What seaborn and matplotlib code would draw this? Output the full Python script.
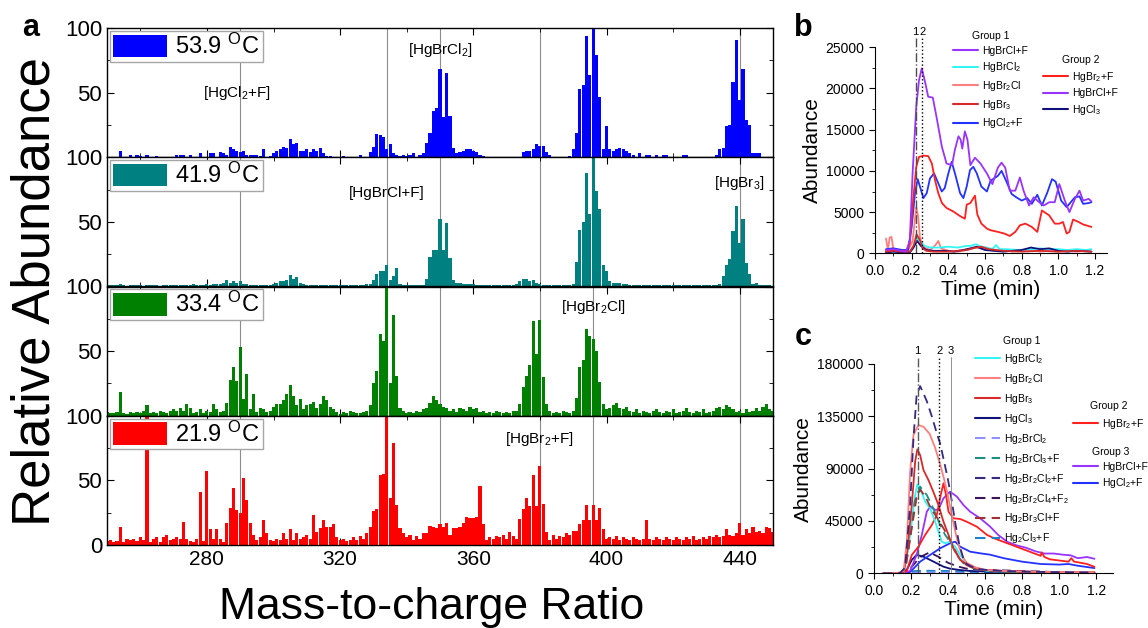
"""
Hg halide cluster spectra (a) and time profiles (b, c)
"""
import numpy as np
import matplotlib
matplotlib.use("Agg")
import matplotlib.pyplot as plt
from matplotlib.patches import Patch
from matplotlib.lines import Line2D
import seaborn as sns

sns.set_style("ticks")
plt.rcParams["font.family"] = ["Liberation Sans", "DejaVu Sans"]
plt.rcParams["mathtext.default"] = "regular"
for k in ["text.color", "axes.labelcolor", "xtick.color", "ytick.color", "axes.edgecolor"]:
    plt.rcParams[k] = "black"

# ---------------- panel a: spectra at four temperatures ----------------
MZ = list(range(250, 451))
TEMPS = ["53.9", "41.9", "33.4", "21.9"]
COLORS_A = ["#0000FF", "#008080", "#008000", "#FF0000"]

ABUND_539 = [
    0, 0, 0, 0, 5, 0, 0, 2, 0, 2,
    1, 0, 2, 0, 0, 1, 0, 0, 0, 0,
    0, 2, 2, 2, 0, 2, 0, 0, 3, 0,
    0, 3, 3, 0, 4, 3, 2, 8, 6, 5,
    4, 5, 2, 2, 2, 2, 1, 6, 0, 1,
    3, 5, 6, 8, 7, 14, 10, 11, 5, 5,
    6, 4, 6, 5, 7, 3, 1, 1, 0, 0,
    0, 1, 0, 0, 0, 0, 2, 0, 0, 4,
    8, 18, 17, 16, 6, 10, 3, 2, 1, 2,
    1, 2, 3, 0, 2, 3, 11, 19, 36, 38,
    68, 31, 65, 32, 7, 3, 4, 5, 6, 6,
    5, 4, 2, 1, 0, 0, 0, 0, 0, 0,
    0, 0, 0, 0, 0, 4, 5, 5, 6, 10,
    9, 9, 4, 2, 0, 0, 0, 0, 0, 1,
    6, 19, 53, 56, 94, 64, 100, 79, 47, 6,
    24, 6, 5, 6, 7, 6, 5, 3, 2, 0,
    3, 0, 2, 2, 0, 2, 0, 2, 2, 0,
    0, 0, 0, 2, 2, 0, 0, 0, 0, 0,
    0, 0, 0, 2, 6, 7, 24, 25, 58, 91,
    44, 68, 29, 25, 3, 3, 3, 0, 0, 0,
    0,
]
ABUND_419 = [
    1, 1, 1, 1, 2, 1, 0, 1, 1, 1,
    1, 0, 1, 1, 1, 1, 0, 1, 1, 1,
    1, 1, 1, 1, 1, 1, 2, 1, 1, 1,
    2, 1, 2, 2, 2, 3, 5, 3, 4, 3,
    4, 2, 2, 1, 1, 1, 1, 1, 1, 1,
    2, 3, 4, 4, 5, 9, 6, 7, 3, 2,
    1, 1, 1, 1, 1, 1, 1, 1, 1, 1,
    1, 1, 1, 1, 1, 1, 1, 1, 2, 2,
    5, 10, 12, 12, 17, 5, 8, 14, 2, 1,
    1, 1, 1, 1, 1, 1, 6, 23, 28, 28,
    52, 28, 49, 22, 5, 3, 3, 2, 2, 2,
    2, 1, 1, 1, 1, 1, 1, 1, 1, 1,
    1, 1, 1, 2, 4, 6, 6, 4, 5, 3,
    2, 1, 1, 1, 1, 1, 1, 1, 1, 1,
    2, 19, 44, 50, 88, 56, 100, 74, 60, 17,
    12, 4, 3, 3, 3, 2, 2, 1, 1, 1,
    1, 1, 1, 1, 1, 1, 1, 1, 1, 1,
    1, 1, 1, 1, 1, 1, 1, 1, 1, 1,
    1, 1, 1, 1, 2, 8, 17, 21, 43, 62,
    34, 52, 18, 10, 2, 3, 1, 1, 1, 1,
    0,
]
ABUND_334 = [
    3, 2, 2, 3, 18, 2, 1, 3, 2, 3,
    2, 4, 8, 2, 3, 2, 4, 3, 2, 4,
    5, 4, 6, 4, 9, 6, 2, 3, 5, 2,
    4, 3, 9, 5, 3, 4, 10, 28, 38, 27,
    53, 13, 32, 5, 17, 3, 6, 5, 3, 4,
    7, 9, 9, 12, 17, 24, 15, 8, 13, 5,
    8, 9, 11, 6, 9, 15, 12, 7, 5, 3,
    1, 3, 2, 4, 3, 2, 2, 3, 4, 8,
    25, 35, 63, 58, 100, 25, 78, 31, 6, 4,
    2, 3, 2, 4, 3, 5, 6, 10, 15, 12,
    9, 7, 6, 4, 5, 3, 6, 5, 4, 7,
    5, 6, 3, 4, 2, 3, 2, 4, 3, 2,
    3, 2, 4, 4, 9, 22, 31, 39, 73, 48,
    74, 30, 9, 4, 2, 3, 2, 4, 3, 2,
    4, 14, 38, 43, 67, 62, 59, 50, 26, 9,
    5, 6, 8, 10, 6, 5, 7, 4, 3, 5,
    2, 4, 3, 2, 4, 5, 3, 2, 4, 3,
    5, 2, 3, 4, 6, 3, 2, 4, 3, 5,
    2, 3, 4, 6, 7, 5, 8, 7, 5, 3,
    4, 2, 5, 3, 4, 6, 4, 7, 9, 5,
    4,
]
ABUND_219 = [
    3, 4, 2, 3, 14, 2, 5, 4, 5, 3,
    6, 4, 100, 2, 5, 6, 2, 6, 8, 4,
    5, 6, 5, 18, 5, 3, 2, 5, 41, 3,
    57, 12, 5, 12, 5, 2, 17, 29, 44, 27,
    25, 52, 35, 17, 8, 4, 6, 19, 9, 4,
    3, 5, 4, 9, 5, 12, 4, 9, 5, 6,
    8, 5, 23, 10, 13, 19, 14, 14, 16, 6,
    4, 5, 3, 4, 6, 4, 7, 5, 9, 14,
    26, 28, 54, 55, 100, 36, 79, 31, 13, 9,
    6, 8, 4, 7, 5, 9, 9, 15, 14, 13,
    16, 14, 17, 8, 13, 13, 14, 17, 22, 21,
    21, 22, 46, 16, 4, 6, 5, 7, 6, 8,
    5, 10, 7, 5, 20, 28, 36, 30, 54, 30,
    61, 32, 10, 4, 8, 5, 7, 6, 9, 8,
    11, 11, 16, 19, 31, 19, 31, 19, 29, 12,
    5, 6, 5, 7, 4, 6, 5, 4, 6, 5,
    4, 5, 19, 5, 4, 6, 5, 4, 6, 5,
    4, 6, 5, 4, 6, 5, 7, 4, 5, 6,
    5, 7, 6, 8, 6, 7, 12, 8, 7, 9,
    17, 8, 12, 9, 14, 10, 11, 9, 14, 13,
    10,
]
SPECTRA = [ABUND_539, ABUND_419, ABUND_334, ABUND_219]

REF_MZ = [290, 334, 350, 380, 396, 440]
# (panel index, m/z, relative abundance, label)
PEAK_LABELS = [
    (0, 289, 50, "[HgCl$_2$+F]"),
    (0, 350, 83, "[HgBrCl$_2$]"),
    (1, 334, 72, "[HgBrCl+F]"),
    (1, 440, 80, "[HgBr$_3$]"),
    (2, 396, 84, "[HgBr$_2$Cl]"),
    (3, 380, 82, "[HgBr$_2$+F]"),
]

# ---------------- panel b ----------------
B_PURPLE_T = [0.06, 0.10, 0.14, 0.17, 0.19, 0.205, 0.225, 0.24, 0.255, 0.275, 0.29, 0.315,
              0.335, 0.365, 0.39, 0.42, 0.435, 0.455, 0.467, 0.476, 0.49, 0.504, 0.52, 0.545,
              0.575, 0.61, 0.64, 0.67, 0.69, 0.71, 0.735, 0.765, 0.79, 0.81, 0.84, 0.865,
              0.895, 0.92, 0.95, 0.98, 1.005, 1.035, 1.06, 1.09, 1.115, 1.135, 1.165, 1.18]
B_PURPLE_V = [400, 500, 300, 200, 1600, 9700, 17800, 21000, 22450, 20600, 19000, 18900,
              16600, 12900, 10900, 10700, 12500, 14200, 13800, 12700, 14800, 13800, 10700, 11600,
              10900, 9700, 8400, 10400, 11000, 10400, 7600, 7600, 9200, 7600, 5800, 6800,
              6200, 5800, 6200, 6200, 8400, 6400, 5000, 6600, 7600, 6400, 6600, 6300]
B_RED_T = [0.06, 0.10, 0.14, 0.17, 0.19, 0.205, 0.225, 0.24, 0.265, 0.29, 0.31, 0.327,
           0.345, 0.365, 0.39, 0.425, 0.465, 0.49, 0.5, 0.52, 0.545, 0.558, 0.58, 0.61,
           0.63, 0.67, 0.705, 0.735, 0.765, 0.79, 0.82, 0.855, 0.885, 0.91, 0.95, 0.98,
           1.005, 1.025, 1.045, 1.06, 1.08, 1.11, 1.135, 1.165, 1.18]
B_RED_V = [300, 400, 300, 300, 1200, 5700, 10500, 11700, 11850, 11800, 10900, 8900,
           7300, 6100, 5500, 5100, 4500, 4200, 5900, 6100, 7000, 4700, 3600, 3000,
           2800, 2600, 2400, 2100, 2600, 3400, 3600, 3200, 2600, 5200, 4600, 3600,
           3600, 3800, 2400, 2600, 4100, 3800, 3500, 3300, 3200]
B_BLUE_T = [0.06, 0.10, 0.15, 0.18, 0.20, 0.218, 0.233, 0.245, 0.264, 0.282, 0.30, 0.322,
            0.345, 0.364, 0.38, 0.40, 0.418, 0.436, 0.464, 0.482, 0.50, 0.518, 0.536, 0.555,
            0.58, 0.61, 0.63, 0.67, 0.69, 0.715, 0.745, 0.77, 0.80, 0.83, 0.855, 0.885,
            0.91, 0.94, 0.965, 0.985, 1.015, 1.045, 1.06, 1.09, 1.115, 1.135, 1.165, 1.18]
B_BLUE_V = [500, 600, 400, 400, 3200, 7300, 9000, 8100, 6700, 7300, 9100, 9700,
            8500, 7500, 7900, 9700, 11100, 9700, 7300, 6700, 8100, 10100, 10500, 9700,
            8100, 7500, 8800, 9400, 10000, 8800, 7200, 6800, 6400, 6700, 6000, 7100,
            5800, 7400, 9000, 8700, 6400, 5600, 6000, 6800, 6900, 6000, 6100, 6200]
B_SALMON_T = [0.06, 0.07, 0.08, 0.09, 0.10, 0.12, 0.15, 0.18, 0.205, 0.225, 0.235, 0.245,
              0.26, 0.28, 0.30, 0.33, 0.345, 0.36, 0.40, 0.45, 0.50, 0.55, 0.60, 0.65,
              0.70, 0.75, 0.80, 0.85, 0.90, 0.95, 1.0, 1.05, 1.10, 1.15, 1.18]
B_SALMON_V = [1800, 400, 1900, 2000, 500, 300, 400, 300, 1500, 5600, 4500, 2000,
              800, 600, 400, 1000, 1500, 600, 300, 200, 400, 700, 500, 300,
              400, 200, 300, 400, 200, 300, 200, 300, 200, 300, 200]
B_DKRED_T = [0.06, 0.1, 0.15, 0.19, 0.21, 0.227, 0.245, 0.26, 0.28, 0.32, 0.4, 0.45,
             0.5, 0.55, 0.58, 0.62, 0.7, 0.8, 0.9, 1.0, 1.1, 1.18]
B_DKRED_V = [200, 300, 200, 200, 900, 2300, 1600, 600, 300, 200, 200, 300,
             400, 700, 800, 500, 300, 200, 300, 200, 300, 200]
B_CYAN_T = [0.06, 0.1, 0.15, 0.19, 0.21, 0.23, 0.25, 0.27, 0.3, 0.35, 0.4, 0.45,
            0.5, 0.52, 0.55, 0.58, 0.61, 0.64, 0.66, 0.68, 0.72, 0.78, 0.85, 0.9,
            0.95, 1.0, 1.05, 1.1, 1.15, 1.18]
B_CYAN_V = [200, 200, 200, 200, 800, 1800, 1400, 900, 700, 700, 800, 700,
            900, 900, 1100, 800, 700, 500, 1000, 500, 500, 400, 500, 600,
            500, 500, 400, 500, 400, 500]
B_NAVY_T = [0.06, 0.1, 0.15, 0.19, 0.21, 0.23, 0.25, 0.28, 0.32, 0.38, 0.43, 0.48,
            0.52, 0.555, 0.6, 0.65, 0.7, 0.75, 0.8, 0.85, 0.9, 0.95, 1.0, 1.05, 1.1, 1.18]
B_NAVY_V = [100, 200, 100, 100, 700, 1500, 900, 400, 300, 300, 200, 400,
            600, 800, 400, 300, 200, 300, 400, 700, 500, 600, 300, 200, 300, 200]

# ---------------- panel c ----------------
C_CYAN_T = [0.05, 0.12, 0.16, 0.186, 0.204, 0.222, 0.234, 0.249, 0.276, 0.303, 0.33, 0.348,
            0.366, 0.384, 0.41, 0.438, 0.465, 0.5, 0.555, 0.61, 0.7, 0.8, 0.9, 1.0, 1.1, 1.19]
C_CYAN_V = [0, 0, 500, 22000, 44400, 67300, 76500, 73100, 61600, 55900, 44400, 35800,
            27200, 25800, 27200, 22900, 15800, 8600, 4300, 2000, 1500, 1000, 1000, 800, 800, 600]
C_SALMON_T = [0.05, 0.12, 0.16, 0.177, 0.195, 0.213, 0.24, 0.267, 0.30, 0.33, 0.36, 0.38,
              0.40, 0.42, 0.44, 0.46, 0.48, 0.50, 0.55, 0.60, 0.7, 0.8, 0.9, 1.0, 1.1, 1.19]
C_SALMON_V = [0, 0, 2000, 27000, 87000, 119000, 127500, 126000, 120000, 108000, 92000, 80000,
              66000, 50000, 35000, 22000, 14000, 9000, 5000, 3000, 2000, 1500, 1200, 1000, 1000, 900]
C_DKRED_T = [0.05, 0.12, 0.16, 0.177, 0.204, 0.222, 0.234, 0.249, 0.267, 0.294, 0.32, 0.348,
             0.375, 0.402, 0.429, 0.465, 0.519, 0.59, 0.7, 0.8, 0.9, 1.0, 1.1, 1.19]
C_DKRED_V = [0, 0, 1000, 15000, 58700, 96000, 106600, 101700, 88800, 80200, 70200, 58700,
             44400, 33000, 21500, 11500, 5700, 3000, 2000, 1500, 1200, 1000, 900, 800]
C_NAVY_T = [0.05, 0.15, 0.177, 0.204, 0.23, 0.267, 0.303, 0.339, 0.375, 0.41, 0.465, 0.52,
            0.6, 0.7, 0.8, 0.9, 1.0, 1.1, 1.19]
C_NAVY_V = [0, 0, 3000, 11500, 15800, 14300, 11500, 8600, 5700, 4000, 2800, 2000,
            1500, 1000, 800, 700, 600, 500, 500]
C_LTBLUE_T = [0.05, 0.2, 0.25, 0.3, 0.4, 0.5, 0.6, 0.8, 1.0, 1.19]
C_LTBLUE_V = [0, 500, 800, 700, 500, 400, 300, 200, 200, 200]
C_TEAL_T = [0.05, 0.14, 0.17, 0.195, 0.22, 0.249, 0.285, 0.32, 0.357, 0.384, 0.41, 0.447,
            0.483, 0.537, 0.6, 0.7, 0.8, 1.0, 1.19]
C_TEAL_V = [0, 0, 4000, 30000, 62000, 74500, 67300, 55900, 41500, 33000, 27200, 15800,
            8600, 4300, 2500, 1500, 1000, 800, 600]
C_SLATE_T = [0.05, 0.14, 0.168, 0.195, 0.213, 0.23, 0.249, 0.267, 0.285, 0.31, 0.34, 0.357,
             0.38, 0.40, 0.42, 0.44, 0.46, 0.48, 0.50, 0.55, 0.6, 0.7, 0.8, 0.9, 1.0, 1.1, 1.19]
C_SLATE_V = [0, 0, 5000, 58700, 116000, 153000, 161000, 154700, 148000, 136000, 120000, 111600,
             95000, 80000, 62000, 42000, 25000, 14000, 8000, 4000, 3000, 2000, 1500, 1200, 1000, 800, 700]
C_DKPUR_T = [0.05, 0.15, 0.2, 0.25, 0.3, 0.35, 0.4, 0.45, 0.5, 0.6, 0.7, 0.8, 0.9, 1.0, 1.1, 1.19]
C_DKPUR_V = [0, 0, 5000, 14000, 18000, 14000, 9000, 6000, 4000, 3000, 2500, 2000, 1500, 1000, 800, 600]
C_BROWN_T = [0.05, 0.14, 0.17, 0.2, 0.23, 0.25, 0.28, 0.31, 0.34, 0.37, 0.40, 0.43,
             0.46, 0.50, 0.55, 0.6, 0.7, 0.8, 1.0, 1.19]
C_BROWN_V = [0, 0, 5000, 35000, 65000, 72000, 65000, 55000, 48000, 40000, 32000, 22000,
             13000, 7000, 4000, 2500, 1500, 1000, 800, 600]
C_STEEL_T = [0.05, 0.18, 0.22, 0.3, 0.4, 0.5, 0.6, 0.8, 1.0, 1.19]
C_STEEL_V = [0, 500, 2000, 2200, 2000, 1500, 1000, 600, 400, 300]
C_RED_T = [0.05, 0.15, 0.177, 0.204, 0.24, 0.276, 0.312, 0.339, 0.36, 0.375, 0.389, 0.402,
           0.429, 0.465, 0.5, 0.555, 0.61, 0.65, 0.7, 0.75, 0.8, 0.85, 0.9, 0.905,
           0.92, 0.95, 1.0, 1.05, 1.065, 1.08, 1.1, 1.15, 1.19]
C_RED_V = [0, 0, 2000, 15800, 22900, 33000, 41500, 50200, 67300, 77400, 67300, 53000,
           47300, 46700, 44400, 40100, 33000, 30000, 27000, 24000, 21000, 18000, 15000, 18000,
           14000, 12000, 11000, 10000, 13000, 10000, 9500, 8000, 5500]
C_PURPLE_T = [0.05, 0.15, 0.195, 0.23, 0.258, 0.285, 0.303, 0.33, 0.348, 0.375, 0.41, 0.447,
              0.483, 0.519, 0.573, 0.627, 0.67, 0.72, 0.77, 0.82, 0.87, 0.92, 0.97, 1.02,
              1.06, 1.1, 1.15, 1.19]
C_PURPLE_V = [0, 0, 2000, 15800, 33000, 53000, 57300, 54500, 55000, 64500, 70200, 66000,
              58700, 53000, 47300, 40100, 33000, 27000, 24000, 22000, 19000, 17000, 17000, 16000,
              15500, 13000, 14000, 12500]
C_BLUE_T = [0.05, 0.15, 0.195, 0.249, 0.303, 0.357, 0.41, 0.438, 0.465, 0.519, 0.573, 0.627,
            0.7, 0.8, 0.9, 1.0, 1.05, 1.1, 1.19]
C_BLUE_V = [0, 0, 1000, 10000, 15800, 21500, 25800, 27200, 22900, 18600, 17200, 16000,
            13000, 10000, 8000, 7500, 8000, 6500, 4500]

PURPLE = "#9933FF"
CYAN = "#33F5F5"
SALMON = "#FF7F7F"
DKRED = "#D42A2A"
BLUE = "#2233FF"
RED = "#FF2020"
NAVY = "#10107A"
DASH = (0, (5, 3))

W, H = 1148, 628


def fx(px):
    return px / W


def fy(py):
    return 1 - py / H


def main():
    fig = plt.figure(figsize=(W / 100, H / 100), dpi=100)

    # ---------- panel a ----------
    top, bot = 28, 545
    ph = (bot - top) / 4
    axes_a = []
    for i, (vals, temp, col) in enumerate(zip(SPECTRA, TEMPS, COLORS_A)):
        ax = fig.add_axes([fx(107), fy(top + (i + 1) * ph), fx(773 - 107), ph / H])
        for m in REF_MZ:
            ax.axvline(m, color="0.55", lw=0.8, zorder=0)
        sns.histplot(x=MZ, weights=vals, discrete=True, shrink=0.93, color=col,
                     alpha=1, linewidth=0, ax=ax, zorder=2)
        ax.set_xlim(250, 450)
        ax.set_ylim(0, 100)
        ax.set_ylabel("")
        ax.set_xlabel("")
        ax.set_xticks([280, 320, 360, 400, 440])
        ax.set_xticks([260, 300, 340, 380, 420], minor=True)
        ax.set_yticks([0, 50, 100] if i == 3 else [50, 100])
        ax.set_yticks([25, 75], minor=True)
        ax.tick_params(which="both", direction="in", top=True, right=True)
        ax.tick_params(axis="x", labelsize=15)
        ax.tick_params(axis="y", labelsize=16)
        ax.tick_params(which="major", length=5)
        ax.tick_params(which="minor", length=3)
        if i < 3:
            ax.tick_params(labelbottom=False)
        for s in ax.spines.values():
            s.set_linewidth(1.0)
        leg = ax.legend([Patch(facecolor=col, edgecolor="none")], [f"{temp} $^{{O}}$C"],
                        loc="upper left", fontsize=17, handlelength=2.3, handleheight=1.1,
                        borderpad=0.12, handletextpad=0.35, borderaxespad=0.12,
                        fancybox=False, edgecolor="0.65", framealpha=1)
        leg.set_zorder(5)
        axes_a.append(ax)

    for i, m, y, lab in PEAK_LABELS:
        axes_a[i].text(m, y, lab, ha="center", va="center", fontsize=11, zorder=6)

    fig.text(fx(36), fy(292), "Relative Abundance", rotation=90, fontsize=38,
             ha="center", va="center")
    fig.text(fx(432), fy(619), "Mass-to-charge Ratio", fontsize=32,
             ha="center", va="baseline")
    fig.text(fx(31), fy(28), "a", fontsize=22, fontweight="bold", ha="center", va="center")
    fig.text(fx(803), fy(28), "b", fontsize=22, fontweight="bold", ha="center", va="center")
    fig.text(fx(803), fy(337), "c", fontsize=22, fontweight="bold", ha="center", va="center")

    # ---------- panel b ----------
    axb = fig.add_axes([fx(875), fy(253.3), fx(1107 - 875), 206 / H])
    b_series = [
        (B_SALMON_T, B_SALMON_V, SALMON, "-"),
        (B_CYAN_T, B_CYAN_V, CYAN, "-"),
        (B_NAVY_T, B_NAVY_V, NAVY, "-"),
        (B_DKRED_T, B_DKRED_V, DKRED, "-"),
        (B_BLUE_T, B_BLUE_V, BLUE, "-"),
        (B_RED_T, B_RED_V, RED, "-"),
        (B_PURPLE_T, B_PURPLE_V, PURPLE, "-"),
    ]
    for t, v, c, ls in b_series:
        sns.lineplot(x=t, y=v, color=c, linestyle=ls, linewidth=1.3, ax=axb)
    axb.set_xlim(0, 1.265)
    axb.set_ylim(0, 25000)
    axb.set_xticks(np.arange(0, 1.21, 0.2))
    axb.set_xticks(np.arange(0.1, 1.21, 0.2), minor=True)
    axb.set_yticks(range(0, 25001, 5000))
    axb.set_yticks(range(2500, 25000, 5000), minor=True)
    axb.xaxis.set_major_formatter(matplotlib.ticker.FormatStrFormatter("%.1f"))
    axb.axvline(0.225, ymax=1.045, ls="-.", color="0.3", lw=1, clip_on=False)
    axb.axvline(0.255, ymax=1.045, ls=":", color="k", lw=1, clip_on=False)
    tr = axb.get_xaxis_transform()
    axb.text(0.222, 1.076, "1", transform=tr, ha="center", va="center", fontsize=8)
    axb.text(0.262, 1.076, "2", transform=tr, ha="center", va="center", fontsize=8)

    # ---------- panel c ----------
    axc = fig.add_axes([fx(874), fy(573.3), fx(1113 - 874), 209.3 / H])
    c_series = [
        (C_LTBLUE_T, C_LTBLUE_V, "#9090FF", DASH),
        (C_STEEL_T, C_STEEL_V, "#1E80C8", DASH),
        (C_DKPUR_T, C_DKPUR_V, "#3A1456", DASH),
        (C_NAVY_T, C_NAVY_V, NAVY, "-"),
        (C_BLUE_T, C_BLUE_V, BLUE, "-"),
        (C_PURPLE_T, C_PURPLE_V, PURPLE, "-"),
        (C_RED_T, C_RED_V, RED, "-"),
        (C_CYAN_T, C_CYAN_V, CYAN, "-"),
        (C_TEAL_T, C_TEAL_V, "#1A9080", DASH),
        (C_BROWN_T, C_BROWN_V, "#A03232", DASH),
        (C_DKRED_T, C_DKRED_V, DKRED, "-"),
        (C_SALMON_T, C_SALMON_V, SALMON, "-"),
        (C_SLATE_T, C_SLATE_V, "#352A80", DASH),
    ]
    for t, v, c, ls in c_series:
        sns.lineplot(x=t, y=v, color=c, linestyle=ls, linewidth=1.3, ax=axc)
    axc.set_xlim(0, 1.29)
    axc.set_ylim(0, 180000)
    axc.set_xticks(np.arange(0, 1.21, 0.2))
    axc.set_xticks(np.arange(0.1, 1.21, 0.2), minor=True)
    axc.set_yticks(range(0, 180001, 45000))
    axc.set_yticks(range(22500, 180000, 45000), minor=True)
    axc.xaxis.set_major_formatter(matplotlib.ticker.FormatStrFormatter("%.1f"))
    axc.axvline(0.24, ymax=1.035, ls="-.", color="0.35", lw=1, clip_on=False)
    axc.axvline(0.353, ymax=1.035, ls=":", color="k", lw=1, clip_on=False)
    axc.axvline(0.414, ymax=1.035, ls="-", color="0.5", lw=0.6, clip_on=False)
    tr = axc.get_xaxis_transform()
    for x, lab in [(0.232, "1"), (0.353, "2"), (0.414, "3")]:
        axc.text(x, 1.063, lab, transform=tr, ha="center", va="center", fontsize=8)

    for ax in (axb, axc):
        sns.despine(ax=ax)
        ax.tick_params(which="both", direction="out", labelsize=10)
        ax.tick_params(which="major", length=4)
        ax.tick_params(which="minor", length=2)
        ax.set_xlabel("Time (min)", fontsize=15, labelpad=2)
        ax.set_ylabel("Abundance", fontsize=15, labelpad=3)

    # ---------- legends ----------
    def lg(entries, title, x, y, spacing):
        handles = [Line2D([], [], color=c, ls=ls, lw=1.5) for _, c, ls in entries]
        labels = [lab for lab, _, _ in entries]
        fig.legend(handles, labels, title=title, loc="upper left",
                   bbox_to_anchor=(fx(x), fy(y)), frameon=False, fontsize=7.5,
                   title_fontsize=7.5, handlelength=2.4, handletextpad=0.35,
                   labelspacing=spacing, borderpad=0, borderaxespad=0)

    lg([("HgBrCl+F", PURPLE, "-"), ("HgBrCl$_2$", CYAN, "-"), ("HgBr$_2$Cl", SALMON, "-"),
        ("HgBr$_3$", DKRED, "-"), ("HgCl$_2$+F", BLUE, "-")], "Group 1", 953, 31, 0.45)
    lg([("HgBr$_2$+F", RED, "-"), ("HgBrCl+F", PURPLE, "-"), ("HgCl$_3$", NAVY, "-")],
       "Group 2", 1043, 55, 0.45)
    lg([("HgBrCl$_2$", CYAN, "-"), ("HgBr$_2$Cl", SALMON, "-"), ("HgBr$_3$", DKRED, "-"),
        ("HgCl$_3$", NAVY, "-"), ("Hg$_2$BrCl$_2$", "#9090FF", DASH),
        ("Hg$_2$BrCl$_3$+F", "#1A9080", DASH), ("Hg$_2$Br$_2$Cl$_2$+F", "#352A80", DASH),
        ("Hg$_2$Br$_2$Cl$_4$+F$_2$", "#3A1456", DASH), ("Hg$_2$Br$_3$Cl+F", "#A03232", DASH),
        ("Hg$_2$Cl$_3$+F", "#1E80C8", DASH)], "Group 1", 975, 336, 0.57)
    lg([("HgBr$_2$+F", RED, "-")], "Group 2", 1073, 401, 0.57)
    lg([("HgBrCl+F", PURPLE, "-"), ("HgCl$_2$+F", BLUE, "-")], "Group 3", 1073, 447, 0.45)

    fig.savefig("out.png", dpi=100)
    plt.close(fig)


if __name__ == "__main__":
    main()
